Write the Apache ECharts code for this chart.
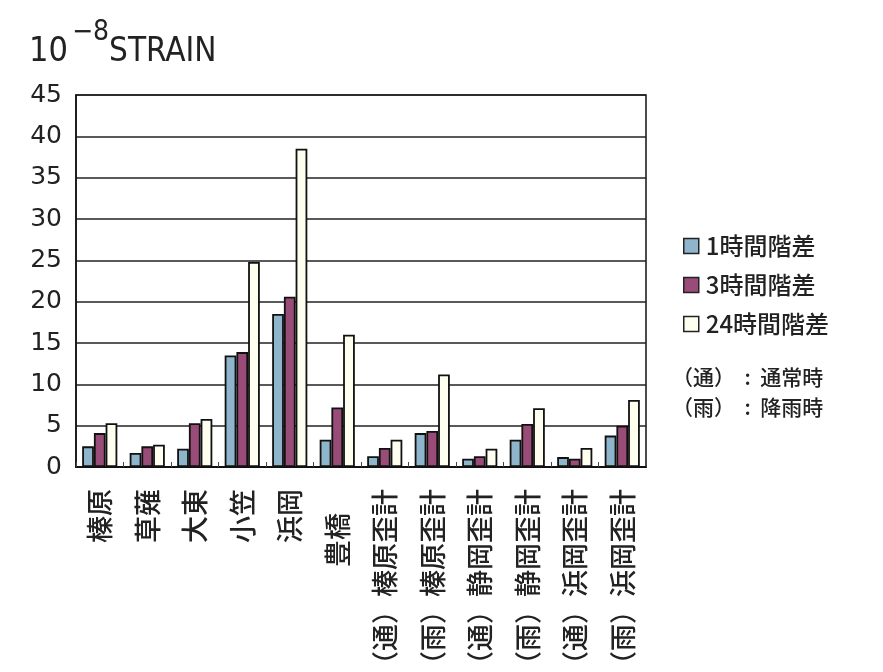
<!DOCTYPE html>
<html>
<head>
<meta charset="utf-8">
<script src="https://cdn.jsdelivr.net/npm/echarts@6/dist/echarts.min.js"></script>
<style>
  html, body {margin: 0; padding: 0; background: #fff;}
  #chart {width: 883px; height: 672px;}
</style>
</head>
<body>
<div id="chart"></div>
<script>
const categories = ['榛原', '草薙', '大東', '小笠', '浜岡', '豊橋',
  '（通）榛原歪計', '（雨）榛原歪計', '（通）静岡歪計', '（雨）静岡歪計', '（通）浜岡歪計', '（雨）浜岡歪計'];
const seriesNames = ['1時間階差', '3時間階差', '24時間階差'];
const hour1 = [2.5, 1.7, 2.2, 13.5, 18.5, 3.3, 1.3, 4.1, 1.0, 3.3, 1.2, 3.8];
const hour3 = [4.1, 2.5, 5.3, 13.9, 20.6, 7.2, 2.3, 4.35, 1.3, 5.2, 1.0, 5.0];
const hour24 = [5.3, 2.7, 5.8, 24.8, 38.5, 16.0, 3.3, 11.2, 2.2, 7.1, 2.3, 8.1];
const yTicks = [0, 5, 10, 15, 20, 25, 30, 35, 40, 45];
const colors = ['#8fb5cc', '#9a4c78', '#fffff0'];

const chart = echarts.init(document.getElementById('chart'));
const font = '"Noto Sans CJK JP", "Noto Sans", sans-serif';
const narrow = '"Liberation Sans Narrow", "DejaVu Sans Condensed", sans-serif';

const mkSeries = (name, data, i) => ({
  name: name,
  type: 'bar',
  data: data,
  barGap: '0%',
  barCategoryGap: '26%',
  itemStyle: {color: colors[i], borderColor: '#111', borderWidth: 1.8},
  emphasis: {disabled: true}
});

chart.setOption({
  animation: false,
  textStyle: {fontFamily: font},
  title: {
    left: 24, top: 14,
    text: '{b|10}{s|−8}{c|STRAIN}',
    textStyle: {
      fontWeight: 'normal',
      rich: {
        b: {fontSize: 34, color: '#222', fontFamily: narrow, fontWeight: 'normal', verticalAlign: 'bottom', lineHeight: 50, padding: [0, 4, 0, 0]},
        s: {fontSize: 28, color: '#222', fontFamily: narrow, fontWeight: 'normal', verticalAlign: 'top', lineHeight: 50, padding: [0, 0, 24, 0]},
        c: {fontSize: 33, color: '#222', fontFamily: narrow, fontWeight: 'normal', verticalAlign: 'bottom', lineHeight: 50}
      }
    }
  },
  legend: {
    orient: 'vertical',
    left: 678, top: 229,
    itemWidth: 15, itemHeight: 15, itemGap: 15,
    icon: 'rect',
    data: seriesNames,
    itemStyle: {borderColor: '#222', borderWidth: 1.5},
    textStyle: {fontSize: 24, fontWeight: 500, color: '#222', padding: [0, 0, 0, 2]}
  },
  graphic: [
    {type: 'text', left: 672, top: 367, style: {text: '（通）  :  通常時', font: '500 21px ' + font, fill: '#222'}},
    {type: 'text', left: 672, top: 397, style: {text: '（雨）  :  降雨時', font: '500 21px ' + font, fill: '#222'}}
  ],
  grid: {
    left: 76, right: 237, top: 95, bottom: 205,
    outerBoundsMode: 'none',
    show: true, borderColor: '#111', borderWidth: 1.5
  },
  xAxis: {
    type: 'category',
    data: categories.map((c) => c === '豊橋' ? {value: c, textStyle: {padding: [0, 24, 0, 0]}} : c),
    axisLine: {lineStyle: {color: '#111', width: 2}},
    axisTick: {show: true, inside: true, length: 5, lineStyle: {color: '#444'}},
    axisLabel: {rotate: 90, fontSize: 27, fontWeight: 500, color: '#222', margin: 22, interval: 0}
  },
  yAxis: {
    type: 'value',
    min: 0, max: 45, interval: 5,
    axisLine: {show: true, lineStyle: {color: '#111', width: 1.5}},
    axisTick: {show: false},
    splitLine: {lineStyle: {color: '#222', width: 1.5}},
    axisLabel: {
      fontSize: 25, color: '#222', margin: 14,
      fontFamily: '"DejaVu Sans", sans-serif',
      formatter: (v) => yTicks.includes(v) ? String(v) : ''
    }
  },
  series: [
    mkSeries(seriesNames[0], hour1, 0),
    mkSeries(seriesNames[1], hour3, 1),
    mkSeries(seriesNames[2], hour24, 2)
  ]
});
</script>
</body>
</html>
